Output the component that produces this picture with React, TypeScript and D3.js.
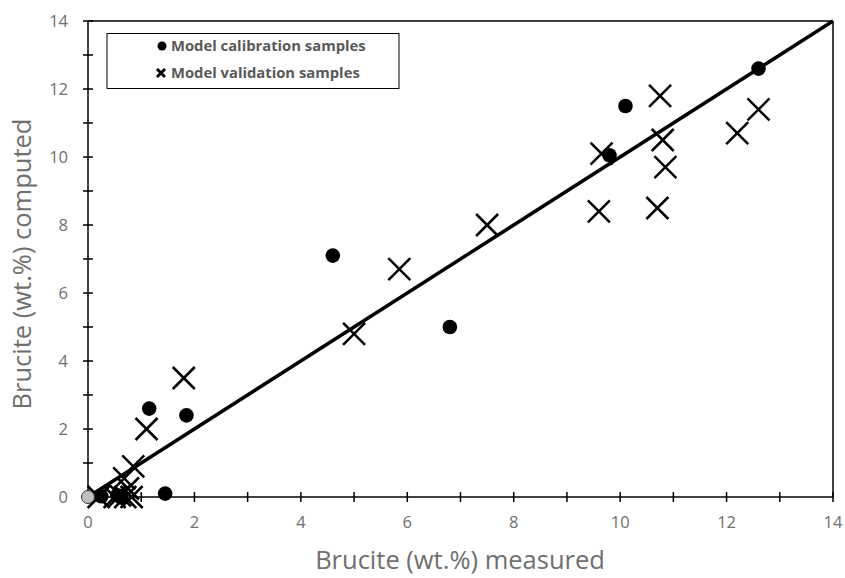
import * as d3 from 'd3';
import React from 'react';

// calibration samples (measured, computed)
const calibration: [number, number][] = [
  [0.25, 0.02], [0.55, 0.05], [0.62, 0.0], [1.45, 0.1], [1.15, 2.6], [1.85, 2.4],
  [4.6, 7.1], [6.8, 5.0], [9.8, 10.05], [10.1, 11.5], [12.6, 12.6],
];
// the light gray point at the origin
const originPoint: [number, number][] = [[0, 0]];

// validation samples (measured, computed)
const validation: [number, number][] = [
  [0.2, 0.0], [0.5, 0.0], [0.6, 0.05], [0.7, 0.0], [0.82, 0.0], [0.75, 0.25],
  [0.68, 0.55], [0.85, 0.9], [1.1, 2.0], [1.8, 3.5], [5.0, 4.8], [5.85, 6.7],
  [7.5, 8.0], [9.6, 8.4], [9.65, 10.1], [10.7, 8.5], [10.85, 9.7], [10.8, 10.5],
  [10.75, 11.8], [12.2, 10.7], [12.6, 11.4],
];

const majorTicks = [0, 2, 4, 6, 8, 10, 12, 14];
const minorTicks = d3.range(0, 15, 1);
const oneToOne: [number, number][] = [[0, 0], [14, 14]];

const legendItems = ['Model calibration samples', 'Model validation samples'];

const App = () => {
  const width = 845;
  const height = 578;
  const marginLeft = 88;
  const marginRight = 12;
  const marginTop = 21;
  const marginBottom = 81;

  const x = d3.scaleLinear([0, 14], [marginLeft, width - marginRight]);
  const y = d3.scaleLinear([0, 14], [height - marginBottom, marginTop]);
  const line = d3.line<[number, number]>().x((d) => x(d[0])).y((d) => y(d[1]));

  const textGray = '#6f6f6f';
  const font = '"Open Sans", "Liberation Sans", sans-serif';
  const cs = 11; // half size of cross

  const cross = (cx: number, cy: number, s: number, sw: number, key: any) => (
    <g key={key} stroke="#000" strokeWidth={sw}>
      <line x1={cx - s} y1={cy - s} x2={cx + s} y2={cy + s} />
      <line x1={cx - s} y1={cy + s} x2={cx + s} y2={cy - s} />
    </g>
  );

  return (
    <svg width={width} height={height} style={{ position: 'absolute', left: 0, top: 0 }} fontFamily={font}>
      <rect width={width} height={height} fill="#fff" />

      {/* frame */}
      <line x1={x(0)} x2={x(14)} y1={y(14)} y2={y(14)} stroke="#000" strokeWidth={1.5} />
      <line x1={x(14)} x2={x(14)} y1={y(0)} y2={y(14)} stroke="#000" strokeWidth={1.5} />

      {/* x axis */}
      <line x1={x(0)} x2={x(14)} y1={y(0)} y2={y(0)} stroke="#000" strokeWidth={1.5} />
      {minorTicks.map((t) => (
        <line key={'xt' + t} x1={x(t)} x2={x(t)} y1={y(0) - 5} y2={y(0) + 5} stroke="#000" strokeWidth={1.5} />
      ))}
      {majorTicks.map((t) => (
        <text key={'xl' + t} x={x(t)} y={y(0) + 31} textAnchor="middle" fontSize={16.5} fill={textGray}>
          {t}
        </text>
      ))}

      {/* y axis */}
      <line x1={x(0)} x2={x(0)} y1={y(0)} y2={y(14)} stroke="#000" strokeWidth={1.5} />
      {minorTicks.map((t) => (
        <line key={'yt' + t} x1={x(0) - 5} x2={x(0) + 5} y1={y(t)} y2={y(t)} stroke="#000" strokeWidth={1.5} />
      ))}
      {majorTicks.map((t) => (
        <text key={'yl' + t} x={x(0) - 20} y={y(t)} dy="0.35em" textAnchor="end" fontSize={16.5} fill={textGray}>
          {t}
        </text>
      ))}

      {/* 1:1 line */}
      <path d={line(oneToOne) ?? ''} fill="none" stroke="#000" strokeWidth={3.5} />

      {/* validation crosses */}
      {validation.map((d, i) => cross(x(d[0]), y(d[1]), cs, 2.5, 'v' + i))}

      {/* calibration dots */}
      {calibration.map((d, i) => (
        <circle key={'c' + i} cx={x(d[0])} cy={y(d[1])} r={7.3} fill="#000" />
      ))}
      {originPoint.map((d, i) => (
        <circle key={'o' + i} cx={x(d[0])} cy={y(d[1])} r={6.5} fill="#bfbfbf" stroke="#333" strokeWidth={1} />
      ))}

      {/* legend */}
      <rect x={107} y={33.5} width={292} height={55} fill="#fff" stroke="#000" strokeWidth={1} />
      <circle cx={162} cy={46} r={4.5} fill="#000" />
      {cross(161, 73, 4, 3, 'lg')}
      {legendItems.map((t, i) => (
        <text key={t} x={171} y={46 + i * 27} dy="0.35em" fontSize={14.8} fontWeight="bold" fill="#595959">
          {t}
        </text>
      ))}

      {/* axis titles */}
      <text x={460} y={560} dy="0.35em" textAnchor="middle" fontSize={25.5} fill={textGray}>
        Brucite (wt.%) measured
      </text>
      <text transform={`translate(22,264) rotate(-90)`} dy="0.35em" textAnchor="middle" fontSize={25.5} fill={textGray}>
        Brucite (wt.%) computed
      </text>
    </svg>
  );
};

export default App;
